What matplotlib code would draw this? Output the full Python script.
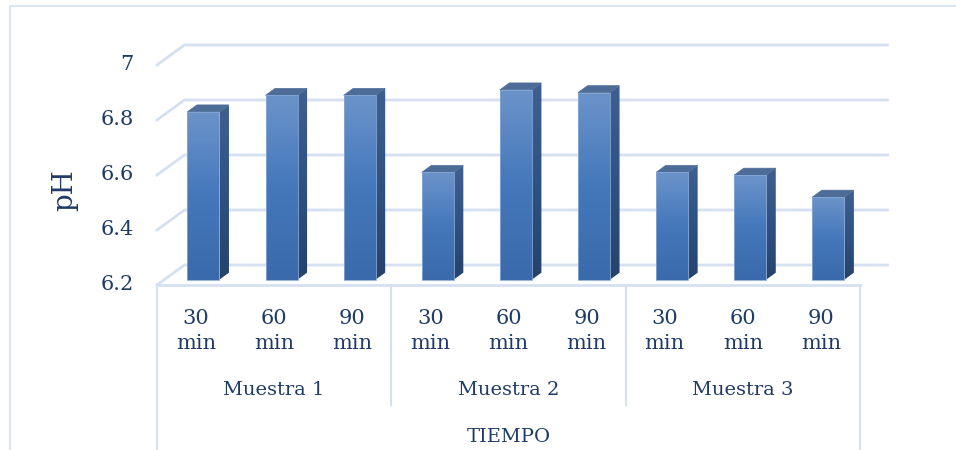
import numpy as np
import matplotlib.pyplot as plt
from matplotlib.colors import LinearSegmentedColormap
from matplotlib.patches import Polygon, Rectangle
from matplotlib.transforms import IdentityTransform

# Données (pH par échantillon et temps)
muestras = ['Muestra 1', 'Muestra 2', 'Muestra 3']
tiempos = ['30\nmin', '60\nmin', '90\nmin']
ph = [6.81, 6.87, 6.87,
      6.59, 6.89, 6.88,
      6.59, 6.58, 6.50]
yticks = [6.2, 6.4, 6.6, 6.8, 7.0]
ytick_labels = ['6.2', '6.4', '6.6', '6.8', '7']

grid_col = '#d5e0f1'
text_col = '#1f3b66'
font = 'DejaVu Serif'

fig = plt.figure(figsize=(9.56, 4.5), dpi=100)
ax = fig.add_axes([0.1642, 0.3667, 0.7354, 0.4889])
ax.set_xlim(0, 9)
ax.set_ylim(6.2, 7.0)
ax.axis('off')
fig.canvas.draw()

depth = np.array([27.5, 20.0])  # profondeur en pixels
ident = IdentityTransform()


def proj(x, y, f):
    return ax.transData.transform((x, y)) + f * depth


def poly(pts, z=3, **kw):
    p = Polygon(pts, closed=True, transform=ident, clip_on=False, zorder=z, **kw)
    ax.add_patch(p)
    return p


def line(pts, z=1, **kw):
    pts = np.array(pts)
    ax.add_line(plt.Line2D(pts[:, 0], pts[:, 1], transform=ident,
                           clip_on=False, zorder=z, **kw))


def gradient_face(pts, cmap, z):
    # remplit un polygone avec un dégradé vertical
    pts = np.array(pts)
    clip = poly(pts, z=z, facecolor='none', edgecolor='none')
    im = ax.imshow(grad, cmap=cmap, aspect='auto', interpolation='bilinear',
                   extent=[pts[:, 0].min(), pts[:, 0].max(),
                           pts[:, 1].min(), pts[:, 1].max()],
                   origin='lower', transform=ident, zorder=z)
    im.set_clip_path(clip)


# cadre extérieur
ax.add_patch(Rectangle((10, -20), 2000, 464, transform=ident, clip_on=False,
                       fill=False, edgecolor=grid_col, lw=1.2, zorder=0))

# quadrillage (mur du fond + diagonales)
for t in yticks:
    line([proj(0, t, 0), proj(0, t, 1), proj(9, t, 1)], color=grid_col, lw=2)

# boîte de l'axe des catégories
n = len(ph)
H = fig.bbox.height
line([proj(0, 6.2, 0), proj(n, 6.2, 0)], color=grid_col, lw=2)
for xv in [0, n]:
    p = proj(xv, 6.2, 0)
    line([p, (p[0], -10)], color=grid_col, lw=1.5)
for xv in [3, 6]:
    p = proj(xv, 6.2, 0)
    line([p, (p[0], H - 405)], color=grid_col, lw=1.5)

# barres 3D
front_cmap = LinearSegmentedColormap.from_list('f', ['#3a6aab', '#4478bb', '#6b93ca'])
side_cmap = LinearSegmentedColormap.from_list('s', ['#25426b', '#2f5283', '#3f5f8f'])
grad = np.linspace(0, 1, 100).reshape(-1, 1)
w = 0.41
f0, f1 = 0.27, 0.615
for i, v in enumerate(ph):
    xl = i + 0.5 - w / 2
    xr = i + 0.5 + w / 2
    a = proj(xl, 6.2, f0)
    b = proj(xr, 6.2, f0)
    c = proj(xr, v, f0)
    d = proj(xl, v, f0)
    # face latérale
    gradient_face([b, proj(xr, 6.2, f1), proj(xr, v, f1), c], side_cmap, 3)
    # dessus
    poly([d, c, proj(xr, v, f1), proj(xl, v, f1)], z=3,
         facecolor='#4d6d98', edgecolor='#4d6d98', lw=0.5)
    # face avant
    gradient_face([a, b, c, d], front_cmap, 4)
    poly([a, b, c, d], z=5, facecolor='none', edgecolor='#86a8d6', lw=0.6)

ax.set_xlim(0, 9)
ax.set_ylim(6.2, 7.0)

# étiquettes de l'axe y
for t, lab in zip(yticks, ytick_labels):
    ax.text(-0.3, t, lab, ha='right', va='center', fontsize=15,
            family=font, color=text_col)
fig.text(65 / 956, 1 - 190 / 450, 'pH', rotation=90, ha='center', va='center',
         fontsize=20, family=font, color=text_col)

# étiquettes des catégories
for i in range(n):
    ax.text(i + 0.5, 6.2 - 0.8 * 46 / 220, tiempos[i % 3], ha='center', va='center',
            fontsize=15, family=font, color=text_col, linespacing=1.35)
for j, m in enumerate(muestras):
    ax.text(3 * j + 1.5, 6.2 - 0.8 * 105 / 220, m, ha='center', va='center',
            fontsize=14, family=font, color=text_col)
ax.text(4.5, 6.2 - 0.8 * 152 / 220, 'TIEMPO', ha='center', va='center',
        fontsize=14, family=font, color=text_col)

plt.savefig('out.png', dpi=100)
